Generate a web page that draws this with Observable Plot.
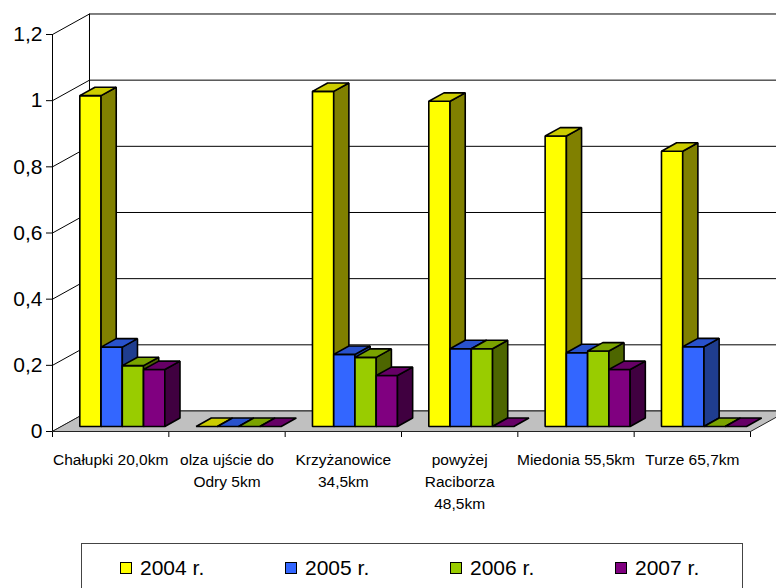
<!DOCTYPE html>
<html><head><meta charset="utf-8">
<script src="https://cdn.jsdelivr.net/npm/d3@7"></script>
<script src="https://cdn.jsdelivr.net/npm/@observablehq/plot@0.6"></script>
<style>
html,body{margin:0;padding:0;background:#fff;overflow:hidden;}
#wrap{position:relative;width:776px;height:588px;font-family:"Liberation Sans",Arial,sans-serif;}
#chart svg{display:block;}
#legend{position:absolute;left:81px;top:543px;width:662px;height:60px;border:1px solid #444;box-sizing:border-box;}
.item{position:absolute;top:13px;display:flex;align-items:center;font-size:21px;line-height:21px;color:#000;}
.sw{width:10px;height:10px;border:1.5px solid #000;margin-right:8px;}
</style></head><body><div id="wrap"><div id="chart"></div><div id="legend"></div></div>
<script>
// ---- data ----
const categories = ["Chałupki 20,0km", "olza ujście do\nOdry 5km", "Krzyżanowice\n34,5km", "powyżej\nRaciborza\n48,5km", "Miedonia 55,5km", "Turze 65,7km"];
const years = ["2004 r.", "2005 r.", "2006 r.", "2007 r."];
const v2004 = [1.0, 0, 1.013, 0.983, 0.878, 0.832];
const v2005 = [0.24, 0, 0.218, 0.235, 0.223, 0.241];
const v2006 = [0.184, 0, 0.209, 0.235, 0.228, 0];
const v2007 = [0.172, 0, 0.154, 0, 0.172, 0];
const yTicks = [0, 0.2, 0.4, 0.6, 0.8, 1, 1.2];
const yTickLabels = ["0", "0,2", "0,4", "0,6", "0,8", "1", "1,2"];

// ---- styles ----
const frontColors = ["#FFFF00", "#3366FF", "#99CC00", "#800080"];
const sideColors = ["#808000", "#1F3D8F", "#4D6600", "#400040"];
const topColors = ["#CCCC00", "#2952CC", "#7AA300", "#660066"];
const series = [v2004, v2005, v2006, v2007];

// ---- 3D projection in data units ----
const DX = 0.318, DY = 0.062;   // full depth offset (x in category units, y in value units)
const d0 = 0.245, d1 = 0.655;   // bar front/back depth
const g0 = 0.1568, bw = 0.1827; // bar start within category, bar width
const P = (x, v, d) => [x + d * DX, v + d * DY];

const polys = [];
let pid = 0;
function addPoly(pts, fill) {
  const k = pid++;
  pts.forEach(p => polys.push({id: k, x: p[0], y: p[1], fill}));
}
categories.forEach((c, ci) => {
  series.forEach((vals, s) => {
    const v = vals[ci];
    const x0 = ci + g0 + s * bw, x1 = x0 + bw;
    if (v > 0) {
      addPoly([P(x0, 0, d0), P(x1, 0, d0), P(x1, v, d0), P(x0, v, d0)], frontColors[s]);
      addPoly([P(x1, 0, d0), P(x1, 0, d1), P(x1, v, d1), P(x1, v, d0)], sideColors[s]);
    }
    addPoly([P(x0, v, d0), P(x1, v, d0), P(x1, v, d1), P(x0, v, d1)], topColors[s]);
  });
});

const n = categories.length;
const grid = [];
yTicks.forEach(t => {
  [P(0, t, 0), P(0, t, 1), P(n, t, 1)].forEach(p => grid.push({t, x: p[0], y: p[1]}));
});
const wallEdge = [P(0, 0, 1), P(0, 1.2, 1)].map(p => ({x: p[0], y: p[1]}));
const floor = [P(0, 0, 0), P(n, 0, 0), P(n, 0, 1), P(0, 0, 1)].map(p => ({x: p[0], y: p[1]}));

const chart = Plot.plot({
  width: 776, height: 540,
  marginLeft: 52, marginRight: 26, marginTop: 34, marginBottom: 109,
  x: {domain: [0, n], ticks: d3.range(n + 1), tickFormat: () => "", tickSize: 6, line: true, label: null},
  y: {domain: [0, 1.2], ticks: yTicks, tickFormat: d => yTickLabels[yTicks.indexOf(d)], tickSize: 6, tickPadding: 4, line: true, label: null},
  color: {type: "identity"},
  style: {fontSize: "21px", fontFamily: "'Liberation Sans', Arial, sans-serif", background: "transparent", overflow: "visible", color: "#000"},
  marks: [
    Plot.line(grid, {x: "x", y: "y", z: "t", stroke: "#000", strokeWidth: 1}),
    Plot.line(wallEdge, {x: "x", y: "y", stroke: "#000", strokeWidth: 1}),
    Plot.line(floor, {x: "x", y: "y", fill: "#C0C0C0", stroke: "#222", strokeWidth: 1, curve: "linear-closed"}),
    Plot.line(polys, {x: "x", y: "y", z: "id", fill: "fill", stroke: "#000", strokeWidth: 1.6, strokeLinejoin: "miter", curve: "linear-closed"}),
    Plot.text(categories, {x: (d, i) => i + 0.5, y: () => 0, text: d => d, fontSize: 15.5, lineAnchor: "top", lineHeight: 1.42, dy: 17.5, fill: "#000"})
  ]
});
document.getElementById("chart").appendChild(chart);

// ---- legend ----
const legend = document.getElementById("legend");
years.forEach((y, i) => {
  const item = document.createElement("div");
  item.className = "item";
  item.style.left = (38 + i * 165) + "px";
  const sw = document.createElement("div");
  sw.className = "sw";
  sw.style.background = frontColors[i];
  const tx = document.createElement("span");
  tx.textContent = y;
  item.appendChild(sw); item.appendChild(tx);
  legend.appendChild(item);
});
</script></body></html>
